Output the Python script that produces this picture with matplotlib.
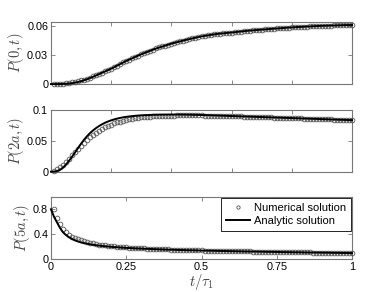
"""Numerical vs analytic occupation probabilities P(x, t) at three sites."""
import numpy as np
import matplotlib
matplotlib.use("Agg")
import matplotlib.pyplot as plt

plt.rcParams["font.family"] = ["Liberation Sans", "DejaVu Sans"]
plt.rcParams["mathtext.fontset"] = "cm"

# time grids (t / tau_1)
t_line = np.round(np.arange(0, 101) * 0.01, 2)
t_num = np.round(np.arange(1, 101) * 0.01, 2)

# P(0,t)
p0_analytic = [
    0.0000, 0.0000, 0.0000, 0.0001, 0.0002, 0.0003, 0.0006, 0.0010, 0.0015, 0.0022,
    0.0030, 0.0040, 0.0051, 0.0063, 0.0076, 0.0090, 0.0104, 0.0118, 0.0132, 0.0146,
    0.0160, 0.0176, 0.0192, 0.0208, 0.0224, 0.0240, 0.0254, 0.0268, 0.0282, 0.0296,
    0.0310, 0.0322, 0.0334, 0.0346, 0.0358, 0.0370, 0.0380, 0.0390, 0.0400, 0.0410,
    0.0420, 0.0428, 0.0436, 0.0444, 0.0452, 0.0460, 0.0467, 0.0474, 0.0481, 0.0488,
    0.0495, 0.0500, 0.0505, 0.0510, 0.0515, 0.0520, 0.0523, 0.0526, 0.0529, 0.0532,
    0.0535, 0.0538, 0.0542, 0.0545, 0.0549, 0.0552, 0.0555, 0.0557, 0.0560, 0.0562,
    0.0565, 0.0567, 0.0570, 0.0572, 0.0575, 0.0577, 0.0579, 0.0581, 0.0584, 0.0586,
    0.0588, 0.0590, 0.0592, 0.0593, 0.0595, 0.0597, 0.0598, 0.0600, 0.0601, 0.0603,
    0.0604, 0.0605, 0.0606, 0.0607, 0.0608, 0.0609, 0.0610, 0.0611, 0.0612, 0.0612,
    0.0613,
]
p0_numeric = [
    0.0001, 0.0002, 0.0003, 0.0005, 0.0008, 0.0012, 0.0017, 0.0023, 0.0030,
    0.0038, 0.0047, 0.0057, 0.0068, 0.0080, 0.0093, 0.0106, 0.0119, 0.0133, 0.0147,
    0.0161, 0.0176, 0.0192, 0.0208, 0.0224, 0.0240, 0.0254, 0.0268, 0.0282, 0.0296,
    0.0310, 0.0322, 0.0334, 0.0346, 0.0358, 0.0370, 0.0380, 0.0390, 0.0400, 0.0410,
    0.0420, 0.0428, 0.0436, 0.0444, 0.0452, 0.0460, 0.0467, 0.0474, 0.0481, 0.0488,
    0.0495, 0.0500, 0.0505, 0.0510, 0.0515, 0.0520, 0.0523, 0.0526, 0.0529, 0.0532,
    0.0535, 0.0538, 0.0542, 0.0545, 0.0549, 0.0552, 0.0555, 0.0557, 0.0560, 0.0562,
    0.0565, 0.0567, 0.0570, 0.0572, 0.0575, 0.0577, 0.0579, 0.0581, 0.0584, 0.0586,
    0.0588, 0.0590, 0.0592, 0.0593, 0.0595, 0.0597, 0.0598, 0.0600, 0.0601, 0.0603,
    0.0604, 0.0605, 0.0606, 0.0607, 0.0608, 0.0609, 0.0610, 0.0611, 0.0612, 0.0612,
    0.0613,
]

# P(2a,t)
p2_analytic = [
    0.0000, 0.0002, 0.0010, 0.0030, 0.0065, 0.0115, 0.0175, 0.0240, 0.0310, 0.0380,
    0.0450, 0.0515, 0.0572, 0.0622, 0.0665, 0.0702, 0.0735, 0.0763, 0.0788, 0.0808,
    0.0826, 0.0841, 0.0854, 0.0865, 0.0874, 0.0882, 0.0888, 0.0894, 0.0899, 0.0903,
    0.0906, 0.0909, 0.0911, 0.0913, 0.0915, 0.0916, 0.0917, 0.0918, 0.0918, 0.0919,
    0.0919, 0.0919, 0.0919, 0.0918, 0.0918, 0.0917, 0.0916, 0.0915, 0.0914, 0.0913,
    0.0912, 0.0910, 0.0909, 0.0907, 0.0905, 0.0904, 0.0902, 0.0900, 0.0899, 0.0897,
    0.0895, 0.0894, 0.0892, 0.0890, 0.0889, 0.0887, 0.0885, 0.0884, 0.0882, 0.0880,
    0.0879, 0.0877, 0.0875, 0.0874, 0.0872, 0.0870, 0.0869, 0.0867, 0.0865, 0.0864,
    0.0862, 0.0860, 0.0859, 0.0857, 0.0855, 0.0854, 0.0852, 0.0850, 0.0849, 0.0847,
    0.0845, 0.0844, 0.0842, 0.0840, 0.0839, 0.0837, 0.0835, 0.0834, 0.0832, 0.0830,
    0.0829,
]
p2_numeric = [
    0.0015, 0.0040, 0.0075, 0.0115, 0.0160, 0.0210, 0.0262, 0.0315, 0.0367,
    0.0417, 0.0465, 0.0510, 0.0552, 0.0590, 0.0625, 0.0657, 0.0686, 0.0712, 0.0735,
    0.0756, 0.0775, 0.0792, 0.0807, 0.0820, 0.0832, 0.0842, 0.0851, 0.0859, 0.0866,
    0.0872, 0.0877, 0.0882, 0.0886, 0.0889, 0.0892, 0.0895, 0.0897, 0.0899, 0.0901,
    0.0902, 0.0903, 0.0904, 0.0905, 0.0905, 0.0905, 0.0905, 0.0905, 0.0905, 0.0904,
    0.0904, 0.0903, 0.0902, 0.0901, 0.0900, 0.0899, 0.0898, 0.0897, 0.0896, 0.0894,
    0.0893, 0.0892, 0.0890, 0.0889, 0.0887, 0.0886, 0.0884, 0.0883, 0.0881, 0.0880,
    0.0878, 0.0876, 0.0875, 0.0873, 0.0871, 0.0870, 0.0868, 0.0866, 0.0865, 0.0863,
    0.0861, 0.0860, 0.0858, 0.0856, 0.0855, 0.0853, 0.0851, 0.0850, 0.0848, 0.0846,
    0.0845, 0.0843, 0.0841, 0.0840, 0.0838, 0.0836, 0.0835, 0.0833, 0.0831, 0.0830,
    0.0828,
]

# P(5a,t)
p5_analytic = [
    0.800, 0.680, 0.590, 0.500, 0.430, 0.385, 0.350, 0.322, 0.300, 0.282,
    0.267, 0.255, 0.245, 0.236, 0.228, 0.221, 0.215, 0.210, 0.205, 0.200,
    0.196, 0.192, 0.189, 0.185, 0.182, 0.179, 0.176, 0.174, 0.171, 0.169,
    0.167, 0.165, 0.163, 0.161, 0.159, 0.157, 0.155, 0.154, 0.152, 0.151,
    0.149, 0.148, 0.146, 0.145, 0.144, 0.142, 0.141, 0.140, 0.139, 0.137,
    0.136, 0.135, 0.134, 0.133, 0.132, 0.131, 0.130, 0.129, 0.128, 0.127,
    0.126, 0.125, 0.124, 0.123, 0.122, 0.121, 0.121, 0.120, 0.119, 0.118,
    0.117, 0.116, 0.115, 0.115, 0.114, 0.113, 0.112, 0.111, 0.111, 0.110,
    0.109, 0.108, 0.108, 0.107, 0.106, 0.105, 0.105, 0.104, 0.103, 0.103,
    0.102, 0.101, 0.101, 0.100, 0.099, 0.099, 0.098, 0.097, 0.097, 0.096,
    0.095,
]
p5_numeric = [
    0.800, 0.660, 0.560, 0.480, 0.430, 0.390, 0.360, 0.335, 0.315,
    0.298, 0.284, 0.271, 0.260, 0.250, 0.241, 0.233, 0.226, 0.220, 0.214,
    0.209, 0.204, 0.199, 0.195, 0.191, 0.187, 0.184, 0.181, 0.178, 0.175,
    0.173, 0.170, 0.168, 0.165, 0.163, 0.161, 0.159, 0.157, 0.155, 0.154,
    0.152, 0.150, 0.149, 0.147, 0.146, 0.144, 0.143, 0.141, 0.140, 0.139,
    0.137, 0.135, 0.134, 0.133, 0.132, 0.131, 0.130, 0.129, 0.128, 0.127,
    0.126, 0.125, 0.124, 0.123, 0.122, 0.121, 0.121, 0.120, 0.119, 0.118,
    0.117, 0.116, 0.115, 0.115, 0.114, 0.113, 0.112, 0.111, 0.111, 0.110,
    0.109, 0.108, 0.108, 0.107, 0.106, 0.105, 0.105, 0.104, 0.103, 0.103,
    0.102, 0.101, 0.101, 0.100, 0.099, 0.099, 0.098, 0.097, 0.097, 0.096,
    0.095,
]

PANELS = [
    (r"$P(0,t)$",  p0_numeric, p0_analytic, (0, 0.0645), [0, 0.03, 0.06], ["0", "0.03", "0.06"]),
    (r"$P(2a,t)$", p2_numeric, p2_analytic, (0, 0.1),    [0, 0.05, 0.1],  ["0", "0.05", "0.1"]),
    (r"$P(5a,t)$", p5_numeric, p5_analytic, (0, 1.0),    [0, 0.4, 0.8],   ["0", "0.4", "0.8"]),
]
BOTTOMS = [0.712, 0.412, 0.113]

EDGE = "#777777"
fig = plt.figure(figsize=(3.89, 2.92), dpi=100)

for i, (lab, num, ana, ylim, yt, ytl) in enumerate(PANELS):
    ax = fig.add_axes([0.131, BOTTOMS[i], 0.774, 0.213])
    ax.plot(t_num, num, "o", ms=3.4, mfc="none", mec="#555555", mew=0.6,
            label="Numerical solution", clip_on=False, zorder=3)
    ax.plot(t_line, ana, "-", color="black", lw=1.4, label="Analytic solution",
            clip_on=False, zorder=4)
    ax.set_xlim(0, 1)
    ax.set_ylim(*ylim)
    ax.set_yticks(yt)
    ax.set_yticklabels(ytl)
    ax.set_ylabel(lab, fontsize=10.5, color="#444444", labelpad=1)
    for s in ax.spines.values():
        s.set_color(EDGE)
        s.set_linewidth(0.8)
    ax.tick_params(direction="in", length=3, width=0.6, color=EDGE,
                   top=True, right=True, labelsize=7.8, pad=2)
    if i < 2:
        ax.set_xticks([0, 0.2, 0.4, 0.6, 0.8, 1.0])
        ax.set_xticklabels([])
    else:
        ax.set_xticks([0, 0.25, 0.5, 0.75, 1.0])
        ax.set_xticklabels(["0", "0.25", "0.5", "0.75", "1"])
        ax.set_xlabel(r"$t/\tau_1$", fontsize=10.5, color="#444444", labelpad=0)
        leg = ax.legend(loc="upper right", fontsize=8, frameon=True, fancybox=False,
                        edgecolor="black", framealpha=1, borderaxespad=0.1,
                        handlelength=2.2, handletextpad=0.3, borderpad=0.45,
                        labelspacing=0.25, markerscale=0.7)
        leg.get_frame().set_linewidth(0.6)

fig.savefig("out.png", dpi=100)
